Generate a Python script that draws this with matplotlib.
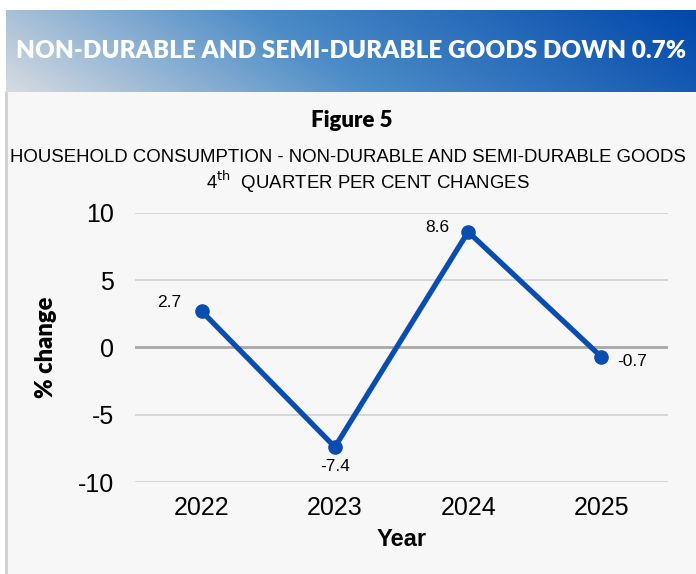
import matplotlib.pyplot as plt
import numpy as np
from matplotlib import font_manager

years = ["2022", "2023", "2024", "2025"]
changes = [2.7, -7.4, 8.6, -0.7]
y_ticks = [10, 5, 0, -5, -10]

names = {f.name for f in font_manager.fontManager.ttflist}
narrow = "Liberation Sans Narrow" if "Liberation Sans Narrow" in names else "Liberation Sans"

plt.rcParams["font.family"] = ["Liberation Sans", "DejaVu Sans"]

W, H = 696, 574
fig = plt.figure(figsize=(W / 100, H / 100), dpi=100)
fig.patch.set_facecolor("white")

# panel background
panel = fig.add_axes([6 / W, 0, 1 - 6 / W, 1 - 92 / H])
panel.set_facecolor("#f7f7f7")
panel.set_xticks([])
panel.set_yticks([])
for s in ["top", "right", "bottom"]:
    panel.spines[s].set_visible(False)
panel.spines["left"].set_color("#d0d0d0")
panel.spines["left"].set_linewidth(2)

# header banner with gradient
ban = fig.add_axes([6 / W, 1 - 92 / H, 1 - 6 / W, 82 / H])
gx = np.linspace(0, 1, 300)
gy = np.linspace(0, 1, 40)
X, Y = np.meshgrid(gx, gy)
t = np.clip(X * 0.85 + (1 - Y) * 0.15, 0, 1)
c0 = np.array([0.84, 0.86, 0.88])
c1 = np.array([0.30, 0.55, 0.78])
c2 = np.array([0.0, 0.28, 0.67])
img = np.where(t[..., None] < 0.45,
               c0 + (c1 - c0) * (t[..., None] / 0.45),
               c1 + (c2 - c1) * ((t[..., None] - 0.45) / 0.55))
ban.imshow(img, aspect="auto", extent=[0, 1, 0, 1], origin="upper")
ban.set_axis_off()
ban.text(0.5, 0.5, "NON-DURABLE AND SEMI-DURABLE GOODS DOWN 0.7%",
         color="white", fontsize=17.5, fontweight="heavy", ha="center", va="center",
         family=["Lato", "DejaVu Sans"], transform=ban.transAxes)

fig.text(352 / W, 1 - 121 / H, "Figure 5", fontsize=16, fontweight="heavy",
         ha="center", va="center", family=["Lato", "DejaVu Sans"])
fig.text(348 / W, 1 - 158 / H, "HOUSEHOLD CONSUMPTION - NON-DURABLE AND SEMI-DURABLE GOODS",
         fontsize=13.4, ha="center", va="center")
fig.text(368 / W, 1 - 182 / H, r"4$^{\mathrm{th}}$  QUARTER PER CENT CHANGES",
         fontsize=13.4, ha="center", va="center")

ax = fig.add_axes([135 / W, 1 - 482 / H, 533 / W, 269 / H])
ax.set_facecolor("none")
x = np.arange(len(years))
ax.plot(x, changes, color="#0a4db0", linewidth=3.8, marker="o", markersize=9.5,
        solid_capstyle="round", zorder=3)
ax.set_xlim(-0.5, len(years) - 0.5)
ax.set_ylim(-10, 10)
ax.set_yticks(y_ticks)
ax.set_yticklabels([str(v) for v in y_ticks])
ax.set_xticks(x)
ax.set_xticklabels(years, family=[narrow, "DejaVu Sans"])
ax.tick_params(axis="y", length=0, labelsize=18, pad=15)
ax.tick_params(axis="x", length=0, labelsize=18, pad=10)
for s in ax.spines.values():
    s.set_visible(False)
for v in y_ticks:
    ax.axhline(v, color="#a8a8a8" if v == 0 else "#d0d0d0",
               linewidth=2 if v == 0 else 1.2, zorder=1)

offsets = [(-23, 6.5), (0, -14), (-22, 3), (22, -3)]
for xi, v, (dx, dy) in zip(x, changes, offsets):
    ax.annotate(f"{v}", (xi, v), xytext=(dx, dy), textcoords="offset points",
                ha="center", va="center", fontsize=12.5)

ax.set_ylabel("% change", fontsize=17, fontweight="heavy",
              family=["Lato", "DejaVu Sans"], labelpad=15)
ax.set_xlabel("Year", fontsize=17, fontweight="bold",
              family=[narrow, "DejaVu Sans"], labelpad=6)

fig.savefig("out.png", dpi=100)
